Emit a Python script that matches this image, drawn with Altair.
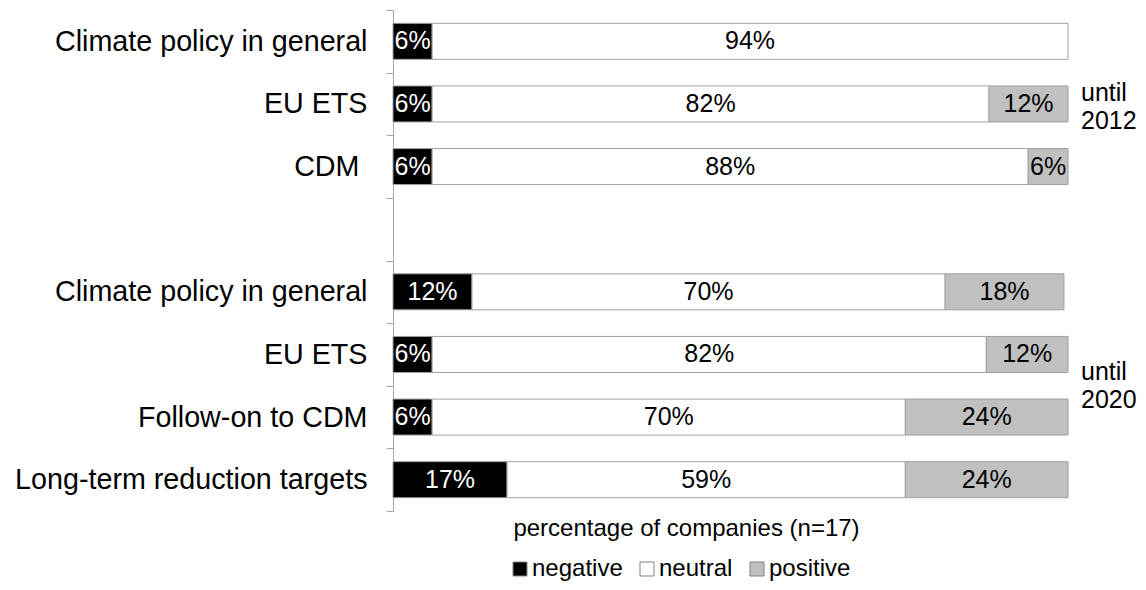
import json
import altair as alt
import pandas as pd

# ---- data ----
row_index = [0, 1, 2, 4, 5, 6, 7]          # slot 3 is the empty gap
row_names = ["Climate policy in general", "EU ETS", "CDM", "",
             "Climate policy in general", "EU ETS", "Follow-on to CDM",
             "Long-term reduction targets"]
negative = [5.8, 5.8, 5.8, 11.7, 5.8, 5.8, 16.9]
neutral = [94.2, 82.5, 88.3, 70.1, 82.1, 70.1, 59.0]
positive = [0.0, 11.7, 5.9, 17.6, 12.1, 24.1, 24.1]
neg_labels = ["6%", "6%", "6%", "12%", "6%", "6%", "17%"]
neu_labels = ["94%", "82%", "88%", "70%", "82%", "70%", "59%"]
pos_labels = ["", "12%", "6%", "18%", "12%", "24%", "24%"]
categories = ["negative", "neutral", "positive"]
fill_colors = ["#000000", "#ffffff", "#c0c0c0"]
notes = ["until\n2012", "until\n2020"]
note_rows = [1, 5]
note_dy = [-11, 18]

FONT = "Liberation Sans"

records = []
for i, r in enumerate(row_index):
    start = 0.0
    for cat, vals, labs in zip(categories, [negative, neutral, positive],
                               [neg_labels, neu_labels, pos_labels]):
        v = vals[i]
        if v <= 0:
            continue
        end = start + v
        records.append({"row": r, "cat": cat, "start": start, "end": end,
                        "mid": (start + end) / 2, "label": labs[i]})
        start = end
df = pd.DataFrame(records)

label_expr = json.dumps(row_names, ensure_ascii=False) + "[datum.value]"

x_scale = alt.Scale(domain=[0, 100], nice=False, zero=False)
x_axis = alt.Axis(title="percentage of companies (n=17)", labels=False, ticks=False,
                  domain=False, grid=False, titleX=293, titleY=24,
                  titleBaseline="alphabetic", titleAlign="center",
                  titleFontSize=24, titleFontWeight="normal", titleColor="#000000",
                  titleFont=FONT)
y_enc = alt.Y("row:O",
              scale=alt.Scale(domain=list(range(8)), paddingInner=0, paddingOuter=0),
              axis=alt.Axis(title=None, labelExpr=label_expr, tickBand="extent",
                            tickSize=7,
                            labelPadding={"condition": {"test": "datum.value === 2",
                                                        "value": 27},
                                          "value": 19},
                            labelFontSize=28.7,
                            labelColor="#000000", labelFont=FONT,
                            domainColor="#a6a6a6", tickColor="#a6a6a6",
                            labelLimit=600, grid=False))

base = alt.Chart(df).encode(y=y_enc)

bars = base.mark_bar(size=36, stroke="#a0a0a0", strokeWidth=1).encode(
    x=alt.X("start:Q", scale=x_scale, axis=x_axis),
    x2="end:Q",
    color=alt.Color("cat:N",
                    scale=alt.Scale(domain=categories, range=fill_colors),
                    legend=alt.Legend(title=None, orient="none", legendX=115,
                                      legendY=547, direction="horizontal",
                                      symbolType="square", symbolSize=196,
                                      symbolStrokeColor="#808080",
                                      symbolStrokeWidth=1, labelFontSize=24,
                                      labelFont=FONT, labelColor="#000000",
                                      columnPadding=12, labelOffset=0,
                                      padding=0, offset=0)),
    order=alt.Order("start:Q"),
)

text_white = base.transform_filter(alt.datum.cat == "negative").mark_text(
    font=FONT, fontSize=25, color="#ffffff", baseline="middle", align="center"
).encode(x=alt.X("mid:Q", scale=x_scale, axis=x_axis), text="label:N")

text_black = base.transform_filter(alt.datum.cat != "negative").mark_text(
    font=FONT, fontSize=25, color="#000000", baseline="middle", align="center"
).encode(x=alt.X("mid:Q", scale=x_scale, axis=x_axis), text="label:N")

layers = [bars, text_white, text_black]
for note, nr, dy in zip(notes, note_rows, note_dy):
    ndf = pd.DataFrame({"row": [nr], "mid": [100.0], "label": [note]})
    layers.append(
        alt.Chart(ndf).mark_text(font=FONT, fontSize=25, color="#000000",
                                 align="left", baseline="middle", dx=13, dy=dy,
                                 lineBreak="\n", lineHeight=28).encode(
            y=y_enc, x=alt.X("mid:Q", scale=x_scale, axis=x_axis), text="label:N")
    )

chart = alt.layer(*layers).properties(
    width=675, height=501,
    autosize=alt.AutoSizeParams(type="none"),
    padding={"left": 385, "top": 2, "right": 70, "bottom": 71},
).configure(font=FONT, view=alt.ViewConfig(stroke=None))

chart.save("out.html", embed_options={"renderer": "svg", "actions": False})
